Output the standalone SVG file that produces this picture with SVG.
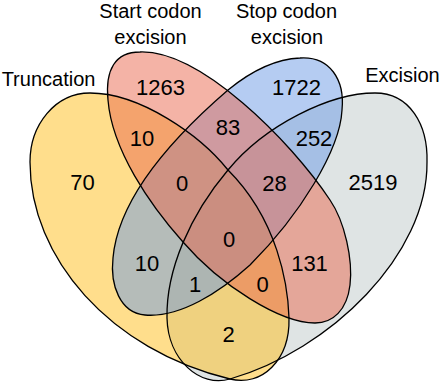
<svg xmlns="http://www.w3.org/2000/svg" width="440" height="383" viewBox="0 0 440 383">
<defs>
  <path id="shape-excision" d="M 375,93 C 410,93 428,125 427,162 C 428,255 330,350 230,379 C 200,388 168,360 167,318 C 166,270 190,215 228,170 C 265,125 330,93 375,93 Z"/>
  <path id="shape-truncation" d="M 90,93 C 55,93 30,125 30,162 C 30,258 110,350 230,379 C 262,387 290,360 289,318 C 288,285 278,220 228,170 C 200,135 140,93 90,93 Z"/>
  <path id="shape-stop" d="M 300,58 C 330,56 345,80 342,110 C 340,150 300,215 250,265 C 220,292 180,318 145,315 C 120,313 110,285 113,258 C 118,200 170,140 228,90 C 250,72 275,59 300,58 Z"/>
  <path id="shape-start" d="M 140,52 C 200,50 290,140 330,200 C 345,222 353,260 350,285 C 347,310 333,323 315,323 C 280,323 220,285 183,242 C 150,205 112,150 108,100 C 105,70 115,52 140,52 Z"/>
</defs>
<style>
  .fill { fill-opacity: 0.5; stroke: none; }
  .outline { fill: none; stroke: #000; stroke-width: 1.3; }
  .label { font-family: "Liberation Sans", Arial, sans-serif; font-size: 20px; fill: #000; text-anchor: middle; }
  .count { font-family: "Liberation Sans", Arial, sans-serif; font-size: 22px; fill: #000; text-anchor: middle; }
</style>
<g id="set-excision">
  <use href="#shape-excision" class="fill" fill="#BFC9C9"/>
</g>
<g id="set-truncation">
  <use href="#shape-truncation" class="fill" fill="#FFBD19"/>
</g>
<g id="set-stop-codon-excision">
  <use href="#shape-stop" class="fill" fill="#6B99E5"/>
</g>
<g id="set-start-codon-excision">
  <use href="#shape-start" class="fill" fill="#E9674D"/>
</g>
<g id="outlines">
  <use href="#shape-excision" class="outline"/>
  <use href="#shape-truncation" class="outline"/>
  <use href="#shape-stop" class="outline"/>
  <use href="#shape-start" class="outline"/>
</g>
<g id="set-labels">
  <text class="label" x="48.5" y="86">Truncation</text>
  <text class="label" x="150.5" y="18">Start codon</text>
  <text class="label" x="150.5" y="44">excision</text>
  <text class="label" x="286.5" y="18">Stop codon</text>
  <text class="label" x="287" y="44">excision</text>
  <text class="label" x="402.5" y="82">Excision</text>
</g>
<g id="counts">
  <text class="count" x="82.5" y="190">70</text>
  <text class="count" x="160.5" y="95">1263</text>
  <text class="count" x="296.5" y="95">1722</text>
  <text class="count" x="373" y="190">2519</text>
  <text class="count" x="142" y="146">10</text>
  <text class="count" x="228" y="135">83</text>
  <text class="count" x="314" y="146">252</text>
  <text class="count" x="182" y="191">0</text>
  <text class="count" x="274.5" y="191">28</text>
  <text class="count" x="229" y="247">0</text>
  <text class="count" x="147" y="271">10</text>
  <text class="count" x="309.5" y="271">131</text>
  <text class="count" x="195" y="292">1</text>
  <text class="count" x="262.5" y="292">0</text>
  <text class="count" x="228.5" y="342">2</text>
</g>
</svg>
